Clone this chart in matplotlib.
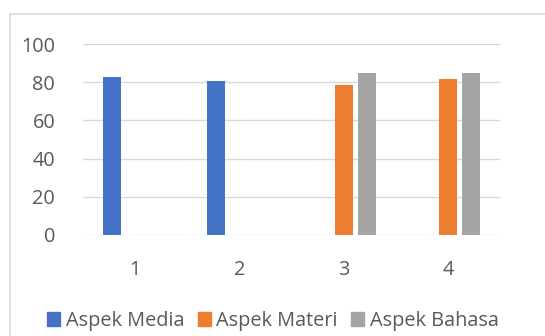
import numpy as np
import matplotlib.pyplot as plt
from matplotlib.patches import Rectangle

# --- data ---
categories = ['1', '2', '3', '4']
aspek_media = [82.7, 80.8, 0, 0]
aspek_materi = [0, 0, 78.4, 81.7]
aspek_bahasa = [0, 0, 85, 85]
series_names = ['Aspek Media', 'Aspek Materi', 'Aspek Bahasa']
colors = ['#4472C4', '#ED7D31', '#A5A5A5']
y_ticks = [0, 20, 40, 60, 80, 100]

plt.rcParams['font.family'] = ['Open Sans', 'DejaVu Sans']
text_color = '#595959'
grid_color = '#D9D9D9'

W, H = 545, 336
fig = plt.figure(figsize=(W / 100, H / 100), dpi=100)

# chart area border (Excel-style), runs off the right/bottom edge
fig.patches.append(Rectangle((10 / W, -0.05), 1.0, 1 - 14 / H + 0.05,
                             transform=fig.transFigure, fill=False,
                             edgecolor=grid_color, linewidth=1.2))

ax = fig.add_axes([83 / W, 1 - 235 / H, (500 - 83) / W, (235 - 44) / H])

x = np.arange(len(categories))
width = 0.173
step = 0.22
for i, (vals, name, c) in enumerate(zip([aspek_media, aspek_materi, aspek_bahasa],
                                        series_names, colors)):
    ax.bar(x + (i - 1) * step, vals, width, color=c, label=name, zorder=3)

ax.set_xlim(-0.5, len(categories) - 0.5)
ax.set_ylim(0, 100)
ax.set_yticks(y_ticks)
ax.set_xticks(x)
ax.set_xticklabels(categories)
ax.yaxis.grid(True, color=grid_color, linewidth=1.0, zorder=0)
ax.set_axisbelow(True)
for s in ax.spines.values():
    s.set_visible(False)
ax.tick_params(length=0, labelsize=14.3, labelcolor=text_color)
ax.tick_params(axis='y', pad=20)
ax.tick_params(axis='x', pad=18)

handles = [Rectangle((0, 0), 1, 1, color=c) for c in colors]
leg = fig.legend(handles, series_names, loc='center', ncol=3,
                 bbox_to_anchor=(273 / W, 1 - 321 / H), frameon=False,
                 fontsize=14.3, handlelength=0.65, handleheight=0.65,
                 handletextpad=0.3, columnspacing=0.65, borderpad=0)
for t in leg.get_texts():
    t.set_color(text_color)

fig.savefig('out.png', dpi=100)
